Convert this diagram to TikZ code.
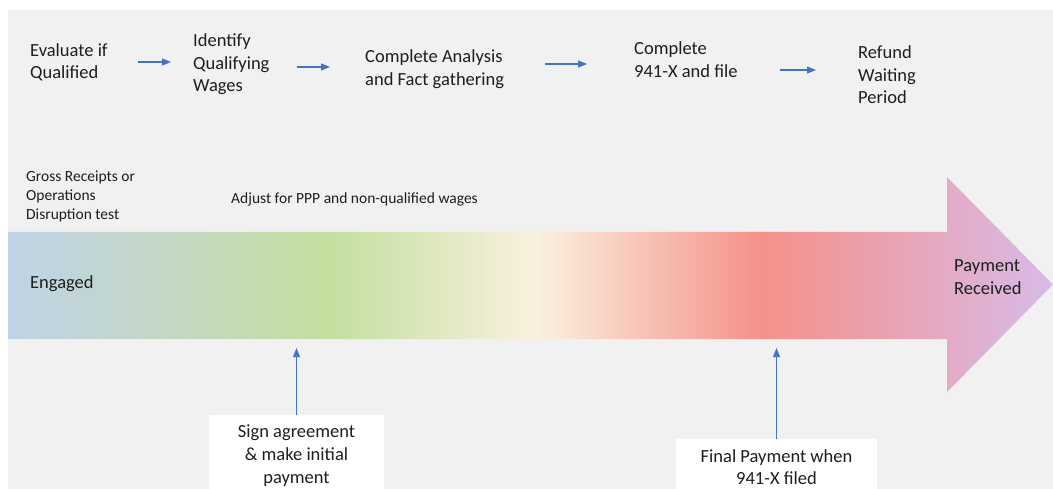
\documentclass[tikz,border=0pt]{standalone}
\usepackage{fontspec}
\setmainfont{Carlito}
\usetikzlibrary{arrows.meta}

\definecolor{panel}{HTML}{F1F1F1}
\definecolor{ink}{HTML}{1E1E1E}
\definecolor{flowblue}{HTML}{4472C4}
\definecolor{tlblue}{HTML}{BFD3E7}
\definecolor{tlsage}{HTML}{C3D7C8}
\definecolor{tlgreen}{HTML}{C3DF9F}
\definecolor{tlcream}{HTML}{FAF1DF}
\definecolor{tlsalmon}{HTML}{F5918A}
\definecolor{tlpink}{HTML}{E8A4B5}
\definecolor{tllilac}{HTML}{D8BBE8}

\pgfdeclarehorizontalshading{timeline}{100bp}{color(0bp)=(tlblue); color(25bp)=(tlblue);
  color(31.8bp)=(tlsage); color(40.4bp)=(tlgreen); color(50.3bp)=(tlcream);
  color(61bp)=(tlsalmon); color(67.7bp)=(tlpink); color(75bp)=(tllilac); color(100bp)=(tllilac)}

\tikzset{
  steptext/.style={font=\fontsize{18.5}{22.6}\selectfont, text=ink, align=left, anchor=west, inner sep=0pt},
  notetext/.style={font=\fontsize{15.5}{18.7}\selectfont, text=ink, align=left, anchor=west, inner sep=0pt},
  milestone/.style={fill=white, font=\fontsize{18.5}{22.6}\selectfont, text=ink, align=center,
    anchor=north, inner xsep=4pt, inner ysep=10pt},
  flow/.style={flowblue, line width=1.1pt, -{Triangle[length=9pt,width=7pt]}}
}

\begin{document}
\begin{tikzpicture}[x=1pt,y=-1pt]
  \useasboundingbox (0,0) rectangle (1053,489);
  \fill[panel] (8,10) rectangle (1053,489);

  \shade[shading=timeline] (8,232) -- (947,232) -- (947,177) -- (1053,284.5)
    -- (947,392) -- (947,339) -- (8,339) -- cycle;

  \node[steptext] (eval) at (30,62.5) {Evaluate if\\Qualified};
  \node[steptext] (ident) at (193,64.4) {Identify\\Qualifying\\Wages};
  \node[steptext] (analysis) at (365,69) {Complete Analysis\\and Fact gathering};
  \node[steptext] (file) at (634,59.5) {Complete\\941-X and file};
  \node[steptext] (refund) at (858,75) {Refund\\Waiting\\Period};

  \node[notetext] (tests) at (26,196.5) {Gross Receipts or\\Operations\\Disruption test};
  \node[notetext] (adjust) at (231,199) {Adjust for PPP and non-qualified wages};

  \node[steptext] (engaged) at (30,284) {Engaged};
  \node[steptext] (received) at (954,277) {Payment\\Received};

  \node[milestone, minimum width=175pt] (sign) at (296.5,415) {Sign agreement\\\& make initial\\payment};
  \node[milestone, minimum width=201pt] (final) at (776.5,439) {Final Payment when\\941-X filed};

  \coordinate (go1) at (138,62);  \coordinate (to1) at (171,62);
  \coordinate (go2) at (297,67);  \coordinate (to2) at (330,67);
  \coordinate (go3) at (545,64);  \coordinate (to3) at (587,64);
  \coordinate (go4) at (780,70);  \coordinate (to4) at (816,70);
  \coordinate (signtip) at (296.5,348);
  \coordinate (finaltip) at (776.5,348);

  \draw[flow] (go1) -- (to1);
  \draw[flow] (go2) -- (to2);
  \draw[flow] (go3) -- (to3);
  \draw[flow] (go4) -- (to4);
  \draw[flow] (sign) -- (signtip);
  \draw[flow] (final) -- (finaltip);
\end{tikzpicture}
\end{document}
